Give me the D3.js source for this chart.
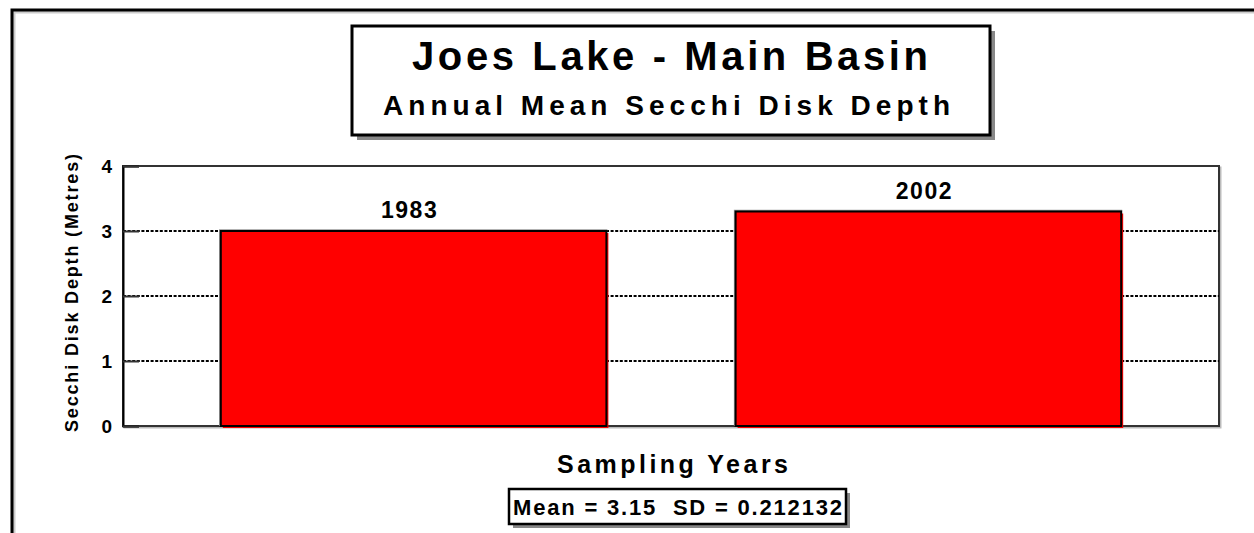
<!DOCTYPE html>
<html>
<head>
<meta charset="utf-8">
<script src="https://cdn.jsdelivr.net/npm/d3@7"></script>
<style>
  html, body { margin: 0; padding: 0; background: #fff; }
  svg { display: block; font-family: "Liberation Sans", Arial, sans-serif; font-weight: bold; }
</style>
</head>
<body>
<svg id="chart" width="1254" height="533"></svg>
<script>
// ===== Data =====
const years = ["1983", "2002"];
const secchiDepth = [3.0, 3.3];
const yTicks = [0, 1, 2, 3, 4];
const titleText = "Joes Lake - Main Basin";
const subtitleText = "Annual Mean Secchi Disk Depth";
const xTitle = "Sampling Years";
const yTitle = "Secchi Disk Depth (Metres)";
const statsText = "Mean = 3.15  SD = 0.212132";

const svg = d3.select("#chart");

// outer frame (left + top only visible)
svg.append("path")
  .attr("d", "M13,533 V11 H1254")
  .attr("fill", "none")
  .attr("stroke", "#ccc")
  .attr("stroke-width", 3)
  .attr("transform", "translate(1,1)");
svg.append("path")
  .attr("d", "M12,533 V10 H1254")
  .attr("fill", "none")
  .attr("stroke", "#000")
  .attr("stroke-width", 3);

// ===== Scales =====
const plot = { left: 123, right: 1219, top: 166, bottom: 426 };

const x = d3.scaleBand()
  .domain(years)
  .range([plot.left, plot.right])
  .paddingInner(0.251)
  .paddingOuter(0.19);

const y = d3.scaleLinear()
  .domain([0, 4])
  .range([plot.bottom, plot.top]);

// plot frame with shadow
svg.append("rect")
  .attr("x", plot.left + 1.5).attr("y", plot.top + 1.5)
  .attr("width", plot.right - plot.left).attr("height", plot.bottom - plot.top)
  .attr("fill", "none").attr("stroke", "#bbb").attr("stroke-width", 2);
svg.append("rect")
  .attr("x", plot.left).attr("y", plot.top)
  .attr("width", plot.right - plot.left).attr("height", plot.bottom - plot.top)
  .attr("fill", "#fff").attr("stroke", "#333").attr("stroke-width", 2);

// gridlines (dotted)
svg.append("g")
  .selectAll("line")
  .data(yTicks.filter(t => t > 0 && t < 4))
  .join("line")
  .attr("x1", plot.left).attr("x2", plot.right)
  .attr("y1", d => y(d)).attr("y2", d => y(d))
  .attr("stroke", "#000")
  .attr("stroke-width", 2)
  .attr("stroke-dasharray", "3,1.6");

// y axis with inward ticks
const yAxisG = svg.append("g")
  .attr("transform", `translate(${plot.left},0)`)
  .call(d3.axisRight(y).tickValues(yTicks).tickSize(16).tickFormat(""));
yAxisG.select(".domain").attr("stroke", "#000").attr("stroke-width", 2);
yAxisG.selectAll(".tick line").attr("stroke", "#333").attr("stroke-width", 2);

svg.append("g")
  .selectAll("text")
  .data(yTicks)
  .join("text")
  .attr("x", plot.left - 11)
  .attr("y", d => y(d))
  .attr("dy", "0.36em")
  .attr("text-anchor", "end")
  .attr("font-size", 19)
  .text(d => d);

// ===== Bars =====
const bars = svg.append("g");
bars.selectAll("rect.fill")
  .data(years)
  .join("rect")
  .attr("class", "fill")
  .attr("x", d => x(d) + 2)
  .attr("y", (d, i) => y(secchiDepth[i]) + 2)
  .attr("width", x.bandwidth())
  .attr("height", (d, i) => y(0) - y(secchiDepth[i]))
  .attr("fill", "#ff0000");
bars.selectAll("path.shade")
  .data(years)
  .join("path")
  .attr("class", "shade")
  .attr("d", (d, i) => `M${x(d) - 1},${y(0)} V${y(secchiDepth[i]) - 1} H${x(d) + x.bandwidth() + 1}`)
  .attr("fill", "none").attr("stroke", "#999").attr("stroke-width", 1.5);
bars.selectAll("rect.outline")
  .data(years)
  .join("rect")
  .attr("class", "outline")
  .attr("x", d => x(d))
  .attr("y", (d, i) => y(secchiDepth[i]))
  .attr("width", x.bandwidth())
  .attr("height", (d, i) => y(0) - y(secchiDepth[i]))
  .attr("fill", "#ff0000")
  .attr("stroke", "#000")
  .attr("stroke-width", 2);

// year labels above bars
svg.append("g")
  .selectAll("text")
  .data(years)
  .join("text")
  .attr("x", d => x(d) + x.bandwidth() / 2 - 4)
  .attr("y", (d, i) => y(secchiDepth[i]) - 13)
  .attr("text-anchor", "middle")
  .attr("font-size", 23)
  .attr("letter-spacing", 1.5)
  .text(d => d);

// ===== Titles =====
svg.append("rect")
  .attr("x", 357).attr("y", 31).attr("width", 638).attr("height", 109)
  .attr("fill", "#888");
svg.append("rect")
  .attr("x", 352).attr("y", 26).attr("width", 638).attr("height", 109)
  .attr("fill", "#fff").attr("stroke", "#000").attr("stroke-width", 3);

svg.append("text")
  .attr("x", 412).attr("y", 70)
  .attr("font-size", 40)
  .attr("textLength", 516).attr("lengthAdjust", "spacing")
  .text(titleText);
svg.append("text")
  .attr("x", 383).attr("y", 115)
  .attr("font-size", 28)
  .attr("textLength", 567).attr("lengthAdjust", "spacing")
  .text(subtitleText);

// axis titles
svg.append("text")
  .attr("x", 557).attr("y", 473)
  .attr("font-size", 25)
  .attr("textLength", 231).attr("lengthAdjust", "spacing")
  .text(xTitle);

svg.append("text")
  .attr("transform", "translate(78,432) rotate(-90)")
  .attr("font-size", 18)
  .attr("textLength", 278).attr("lengthAdjust", "spacing")
  .text(yTitle);

// stats box
svg.append("rect")
  .attr("x", 513).attr("y", 493).attr("width", 337).attr("height", 35)
  .attr("fill", "#888");
svg.append("rect")
  .attr("x", 509).attr("y", 489).attr("width", 337).attr("height", 35)
  .attr("fill", "#fff").attr("stroke", "#000").attr("stroke-width", 2.5);
svg.append("text")
  .attr("x", 513).attr("y", 515)
  .attr("font-size", 22)
  .attr("textLength", 329).attr("lengthAdjust", "spacing")
  .attr("xml:space", "preserve")
  .text(statsText);
</script>
</body>
</html>
